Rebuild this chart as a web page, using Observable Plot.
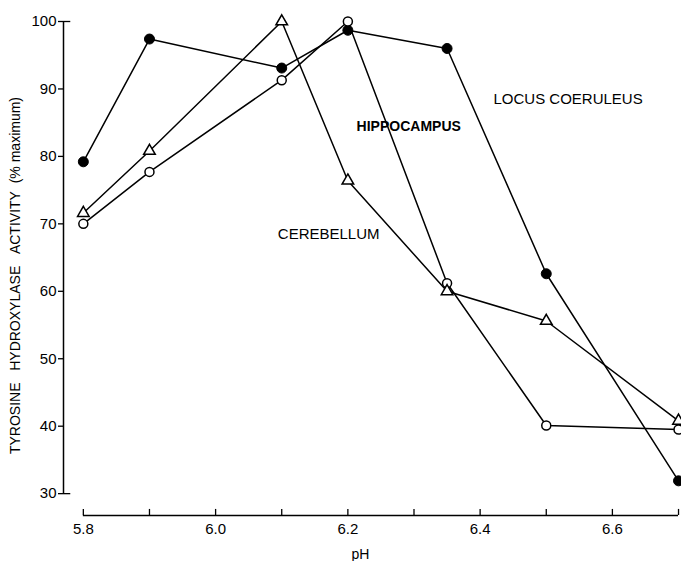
<!DOCTYPE html>
<html>
<head>
<meta charset="utf-8">
<script src="https://cdn.jsdelivr.net/npm/d3@7"></script>
<script src="https://cdn.jsdelivr.net/npm/@observablehq/plot@0.6"></script>
<style>
  body { margin: 0; background: #fff; }
  #chart { width: 681px; height: 561px; }
</style>
</head>
<body>
<div id="chart"></div>
<script>
// pH values at which activity was measured
const pH = [5.8, 5.9, 6.1, 6.2, 6.35, 6.5, 6.7];

// Tyrosine hydroxylase activity (% of maximum) per brain region
const locusCoeruleus = [79.2, 97.4, 93.1, 98.7, 96.0, 62.6, 31.9];
const hippocampus    = [70.0, 77.7, 91.3, 100.0, 61.2, 40.1, 39.5];
const cerebellum     = [71.6, 80.8, 100.0, 76.4, 60.0, 55.6, 40.8];

// Axis ticks
const yTicks = [30, 40, 50, 60, 70, 80, 90, 100];
const xTickMarks = [5.8, 5.9, 6.0, 6.1, 6.2, 6.3, 6.4, 6.5, 6.6, 6.7];
const xTickLabels = [5.8, 6.0, 6.2, 6.4, 6.6];

// Region labels placed beside their curves (pH, activity)
const labelText = ["LOCUS COERULEUS", "HIPPOCAMPUS", "CEREBELLUM"];
const labelPH = [6.533, 6.292, 6.171];
const labelActivity = [88.5, 84.5, 68.5];

const yTitle = "TYROSINE\u00a0\u00a0\u00a0HYDROXYLASE\u00a0\u00a0\u00a0ACTIVITY\u00a0\u00a0(%\u00a0maximum)";

const regions = [
  {name: "Locus coeruleus", values: locusCoeruleus},
  {name: "Hippocampus", values: hippocampus},
  {name: "Cerebellum", values: cerebellum}
];
const rows = regions.flatMap(r => pH.map((x, i) => ({region: r.name, pH: x, activity: r.values[i]})));
const byRegion = name => rows.filter(d => d.region === name);
const labels = labelText.map((t, i) => ({text: t, pH: labelPH[i], activity: labelActivity[i]}));

const xDomain = [5.77, 6.7045];
const yDomain = [26.76, 100];

const chart = Plot.plot({
  width: 681,
  height: 561,
  marginLeft: 63,
  marginRight: 0,
  marginTop: 21,
  marginBottom: 46,
  style: {fontFamily: "'Liberation Sans', Arial, sans-serif", fontSize: "15px", background: "white", color: "black"},
  x: {domain: xDomain, axis: null},
  y: {domain: yDomain, axis: null},
  marks: [
    // y axis
    Plot.ruleX([xDomain[0]], {y1: 30, y2: 100, stroke: "black", strokeWidth: 1.5}),
    Plot.ruleY([30, 100], {x1: xDomain[0], x2: xDomain[0] + 0.011, stroke: "black", strokeWidth: 1.3}),
    Plot.axisY({ticks: yTicks, label: null, tickSize: 5, tickPadding: 2, fontSize: 15, tickFormat: d => String(d), stroke: "black", strokeWidth: 1.3}),
    Plot.text([yTitle], {frameAnchor: "left", textAnchor: "middle", dx: -48, dy: 7, rotate: -90, fontSize: 14, ariaLabel: "y title"}),
    // x axis
    Plot.ruleY([yDomain[0]], {x1: 5.8, x2: 6.7, stroke: "black", strokeWidth: 1.5}),
    Plot.ruleX(xTickMarks, {x: d => d, y1: yDomain[0], y2: yDomain[0] + 0.9, stroke: "black", strokeWidth: 1.3}),
    Plot.axisX({ticks: xTickLabels, label: null, tickSize: 0, tickPadding: 8, fontSize: 15, tickFormat: d3.format(".1f")}),
    Plot.text(["pH"], {frameAnchor: "bottom", dx: -12, dy: 43, lineAnchor: "bottom", fontSize: 14}),
    // curves
    Plot.line(rows, {x: "pH", y: "activity", z: "region", stroke: "black", strokeWidth: 1.5}),
    Plot.dot(byRegion("Locus coeruleus"), {x: "pH", y: "activity", r: 5, fill: "black", stroke: "black", strokeWidth: 1}),
    Plot.dot(byRegion("Hippocampus"), {x: "pH", y: "activity", r: 4.5, fill: "white", stroke: "black", strokeWidth: 1.5}),
    Plot.dot(byRegion("Cerebellum"), {x: "pH", y: "activity", symbol: "triangle", r: 4.3, fill: "white", stroke: "black", strokeWidth: 1.5}),
    // region labels
    Plot.text(labels.filter(d => d.text !== "HIPPOCAMPUS"), {x: "pH", y: "activity", text: "text", fontSize: 15, ariaLabel: "region label"}),
    Plot.text(labels.filter(d => d.text === "HIPPOCAMPUS"), {x: "pH", y: "activity", text: "text", fontSize: 14, fontWeight: "bold"})
  ]
});

d3.select(chart).selectAll('g[aria-label="region label"] text').style("letter-spacing", "0.4px");
d3.select(chart).selectAll('g[aria-label="y title"] text').style("letter-spacing", "1.6px");

document.getElementById("chart").appendChild(chart);
</script>
</body>
</html>
